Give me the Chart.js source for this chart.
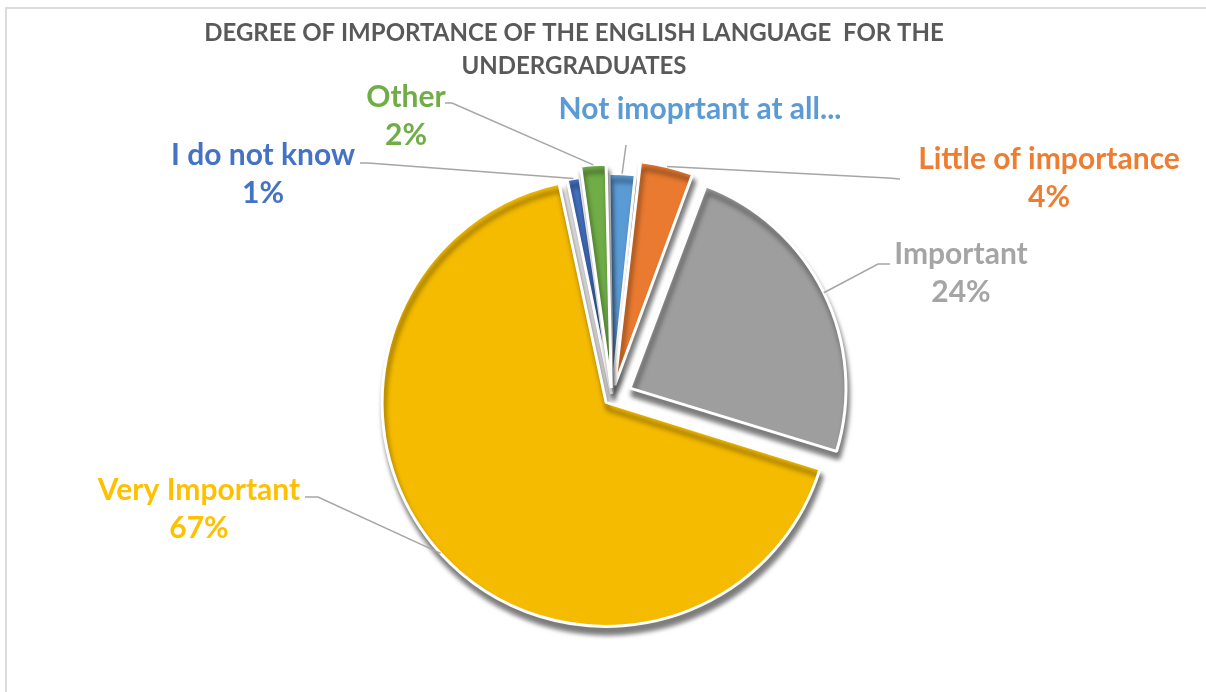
<!DOCTYPE html>
<html>
<head>
<meta charset="utf-8">
<script src="https://cdn.jsdelivr.net/npm/chart.js@4/dist/chart.umd.min.js"></script>
<style>
  html, body { margin: 0; padding: 0; background: #fff; overflow: hidden; }
  #frame { position: absolute; left: 5px; top: 7px; width: 1400px; height: 900px; border: 2px solid #dcdcdc; }
  #wrap { position: absolute; left: 0; top: 0; width: 1206px; height: 692px; }
</style>
</head>
<body>
<div id="frame"></div>
<div id="wrap"><canvas id="chart" width="1206" height="692"></canvas></div>
<script>
// Survey answers, clockwise from the top of the pie
const categories = ['Not imoprtant at all', 'Little of importance', 'Important', 'Very Important', 'I do not know', 'Other'];
const shares = [2, 4, 24, 67, 1, 2];
const labelTexts = ['Not imoprtant at all...', 'Little of importance', 'Important', 'Very Important', 'I do not know', 'Other'];
const showShare = [false, true, true, true, true, true];
const titleLines = ['DEGREE OF IMPORTANCE OF THE ENGLISH LANGUAGE  FOR THE', 'UNDERGRADUATES'];

// Styling
const sliceColors = ['#5B9BD5', '#E97A30', '#9E9E9E', '#F5BB00', '#4472C4', '#70AD47'];
const textColors  = ['#5B9BD5', '#ED7D31', '#A5A5A5', '#FFC000', '#4472C4', '#70AD47'];
const explode = [16, 48, 80, 32, 12, 36];

// Label placement: centre of the name line, and the leader's end and elbow
const labelLayout = [
  { x: 700, y: 109, end: [626, 145], elbow: null },
  { x: 1049, y: 159, end: [900, 179], elbow: [888, 178] },
  { x: 961, y: 254, end: [890, 264], elbow: [878, 264] },
  { x: 199, y: 490, end: [305, 497], elbow: [318, 497] },
  { x: 263, y: 155, end: [360, 163], elbow: [368, 163] },
  { x: 406, y: 97, end: [445, 103], elbow: [452, 103] }
];
const LABEL_FONT = 'bold 30px Lato';
const LINE_GAP = 38;

const sliceShadow = {
  id: 'sliceShadow',
  beforeDatasetsDraw(chart) {
    const ctx = chart.ctx;
    ctx.save();
    ctx.shadowColor = 'rgba(0,0,0,0.5)';
    ctx.shadowBlur = 5;
    ctx.shadowOffsetX = 2;
    ctx.shadowOffsetY = 7;
  },
  afterDatasetsDraw(chart) {
    chart.ctx.restore();
  }
};

const titleAndLabels = {
  id: 'titleAndLabels',
  afterDraw(chart) {
    const ctx = chart.ctx;
    ctx.save();
    // title
    ctx.fillStyle = '#595959';
    ctx.font = 'bold 24px Lato';
    ctx.textAlign = 'center';
    ctx.textBaseline = 'middle';
    ctx.fillText(titleLines[0], 574, 33);
    ctx.fillText(titleLines[1], 574, 66);

    // data labels with leader lines
    const meta = chart.getDatasetMeta(0);
    meta.data.forEach((arc, i) => {
      const p = arc.getProps(['x', 'y', 'startAngle', 'endAngle', 'outerRadius'], true);
      const off = (arc.options.offset || 0) / 4;
      const circ = p.endAngle - p.startAngle;
      const fix = 1 - Math.sin(Math.min(Math.PI, circ));
      const mid = (p.startAngle + p.endAngle) / 2;
      const r = p.outerRadius + off * fix + off;
      const ax = p.x + Math.cos(mid) * r;
      const ay = p.y + Math.sin(mid) * r;
      const L = labelLayout[i];

      ctx.strokeStyle = '#A6A6A6';
      ctx.lineWidth = 1.5;
      ctx.beginPath();
      ctx.moveTo(L.end[0], L.end[1]);
      if (L.elbow) ctx.lineTo(L.elbow[0], L.elbow[1]);
      ctx.lineTo(ax, ay);
      ctx.stroke();

      ctx.fillStyle = textColors[i];
      ctx.font = LABEL_FONT;
      ctx.fillText(labelTexts[i], L.x, L.y);
      if (showShare[i]) ctx.fillText(shares[i] + '%', L.x, L.y + LINE_GAP);
    });
    ctx.restore();
  }
};

new Chart(document.getElementById('chart'), {
  type: 'pie',
  data: {
    labels: categories,
    datasets: [{
      data: shares,
      backgroundColor: sliceColors,
      borderColor: '#ffffff',
      borderWidth: 3,
      offset: explode,
      radius: 216
    }]
  },
  options: {
    responsive: false,
    animation: false,
    events: [],
    rotation: -1,
    layout: { padding: { left: 118, right: 100, top: 152, bottom: 50 } },
    plugins: {
      legend: { display: false },
      title: { display: false },
      tooltip: { enabled: false }
    }
  },
  plugins: [sliceShadow, titleAndLabels]
});
</script>
</body>
</html>
